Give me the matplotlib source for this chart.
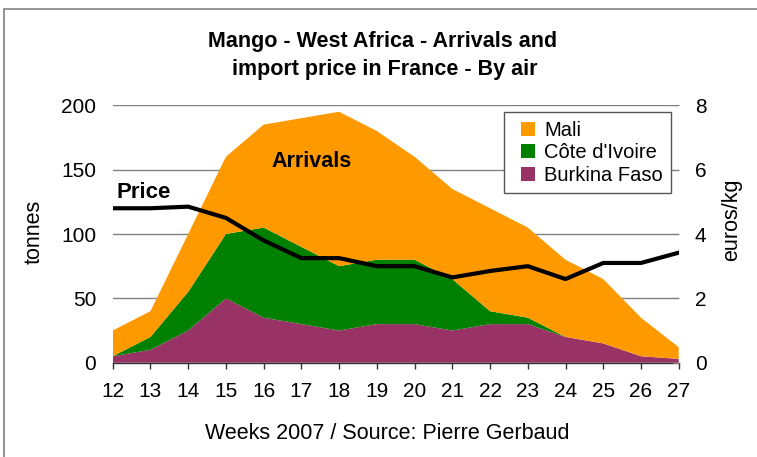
import matplotlib.pyplot as plt
from matplotlib.patches import Rectangle
from matplotlib.lines import Line2D

plt.rcParams['font.family'] = ['Liberation Sans', 'DejaVu Sans']

weeks = list(range(12, 28))
burkina = [5, 10, 25, 50, 35, 30, 25, 30, 30, 25, 30, 30, 20, 15, 5, 3]
cote = [0, 10, 30, 50, 70, 60, 50, 50, 50, 40, 10, 5, 0, 0, 0, 0]
mali = [20, 20, 45, 60, 80, 100, 120, 100, 80, 70, 80, 70, 60, 50, 30, 9]
price = [4.8, 4.8, 4.85, 4.5, 3.8, 3.25, 3.25, 3.0, 3.0, 2.65, 2.85, 3.0, 2.6, 3.1, 3.1, 3.42]

colors = ['#993366', '#008000', '#FF9900']

fig = plt.figure(figsize=(7.57, 4.57), dpi=100)
# plot area in pixels: x 112.7..678.7, y 105.3..362.7
ax = fig.add_axes([112.7 / 757, 1 - 362.7 / 457, 566 / 757, 257.4 / 457])

ax.stackplot(weeks, burkina, cote, mali, colors=colors, linewidth=0, zorder=2)
ax.set_xlim(12, 27)
ax.set_ylim(0, 200)
ax.set_xticks(weeks)
ax.set_yticks([0, 50, 100, 150, 200])
ax.yaxis.grid(True, color='#808080', linewidth=1.0, zorder=0)
ax.set_axisbelow(True)
for s in ['top', 'right', 'left']:
    ax.spines[s].set_visible(False)
ax.spines['bottom'].set_color('#333333')
ax.spines['bottom'].set_linewidth(1.0)
ax.tick_params(axis='x', direction='out', length=4, width=1, color='#333333',
               labelsize=15, pad=10)
ax.tick_params(axis='y', length=0, labelsize=15, pad=12)

ax2 = ax.twinx()
ax2.plot(weeks, price, color='black', linewidth=3, solid_joinstyle='round',
         solid_capstyle='round', zorder=5)
ax2.set_ylim(0, 8)
ax2.set_yticks([0, 2, 4, 6, 8])
for s in ['top', 'right', 'left', 'bottom']:
    ax2.spines[s].set_visible(False)
ax2.tick_params(axis='y', direction='in', length=4, color='#808080',
                labelsize=15, pad=11.7)

# labels inside the plot
ax.text(16.2, 152.3, 'Arrivals', fontsize=15.5, fontweight='bold',
        va='baseline', zorder=6)
ax2.text(12.11, 5.11, 'Price', fontsize=16, fontweight='bold',
         va='baseline', zorder=6)

handles = [Line2D([], [], marker='s', linestyle='', markersize=10,
                  markeredgewidth=0, color=c) for c in ['#FF9900', '#008000', '#993366']]
leg = ax2.legend(handles, ['Mali', "Côte d'Ivoire", 'Burkina Faso'],
                 loc='upper left',
                 bbox_to_anchor=((504.3 - 112.7) / 566, (362.7 - 112.3) / 257.4),
                 fontsize=14.5, frameon=True, fancybox=False, framealpha=1,
                 edgecolor='#555555', handlelength=1.5, handletextpad=0.05,
                 labelspacing=0.18, borderpad=0.42, borderaxespad=0)
leg.get_frame().set_linewidth(1.0)

# titles and axis labels
fig.text(383 / 757, 1 - 46.7 / 457, 'Mango - West Africa - Arrivals and',
         ha='center', va='baseline', fontsize=15.5, fontweight='bold')
fig.text(385 / 757, 1 - 75 / 457, 'import price in France - By air',
         ha='center', va='baseline', fontsize=15.5, fontweight='bold')
fig.text(387 / 757, 1 - 439.3 / 457, 'Weeks 2007 / Source: Pierre Gerbaud',
         ha='center', va='baseline', fontsize=15.5)
fig.text(34.5 / 757, 1 - 231.5 / 457, 'tonnes', rotation=90,
         ha='center', va='center', fontsize=15.5)
fig.text(731.7 / 757, 1 - 220 / 457, 'euros/kg', rotation=90,
         ha='center', va='center', fontsize=15.5)

# outer chart frame
fig.patches.append(Rectangle((3.5 / 757, -0.1), 1.2, 1.1 - 9 / 457,
                             transform=fig.transFigure, fill=False,
                             edgecolor='#808080', linewidth=1.2))

fig.savefig('out.png', dpi=100)
